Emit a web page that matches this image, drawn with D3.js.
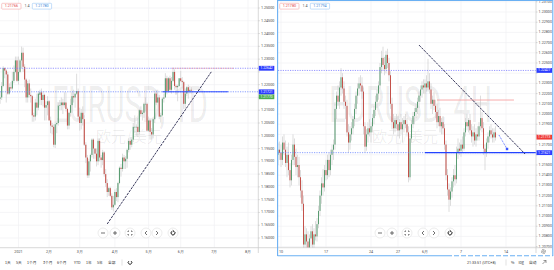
<!DOCTYPE html>
<html><head><meta charset="utf-8">
<script src="https://cdn.jsdelivr.net/npm/d3@7/dist/d3.min.js"></script>
<style>body{margin:0;background:#fff;}svg{display:block;font-family:Roboto,"Liberation Sans",Arial,sans-serif;}</style>
</head><body><svg id="c" width="554" height="270"></svg>
<script>
// ---------------- DATA ----------------
const holidays = ["2020-12-25","2021-01-01"];
// daily EURUSD bars: date, open, high, low, close
const dailyBars = [
["2020-12-10",1.2080,1.2165,1.2060,1.2135],["2020-12-11",1.2135,1.2160,1.2085,1.2110],
["2020-12-14",1.2110,1.2162,1.2105,1.2145],["2020-12-15",1.2145,1.2170,1.2125,1.2150],
["2020-12-16",1.2150,1.2210,1.2140,1.2195],["2020-12-17",1.2195,1.2272,1.2190,1.2265],
["2020-12-18",1.2265,1.2268,1.2225,1.2255],["2020-12-21",1.2255,1.2260,1.2130,1.2240],
["2020-12-22",1.2240,1.2250,1.2160,1.2165],["2020-12-23",1.2165,1.2205,1.2160,1.2190],
["2020-12-24",1.2190,1.2210,1.2175,1.2185],["2020-12-28",1.2185,1.2250,1.2180,1.2215],
["2020-12-29",1.2215,1.2275,1.2205,1.2250],["2020-12-30",1.2250,1.2310,1.2245,1.2295],
["2020-12-31",1.2295,1.2310,1.2210,1.2215],
["2021-01-04",1.2215,1.2310,1.2200,1.2250],["2021-01-05",1.2250,1.2300,1.2245,1.2295],
["2021-01-06",1.2295,1.2349,1.2265,1.2325],["2021-01-07",1.2325,1.2345,1.2250,1.2270],
["2021-01-08",1.2270,1.2280,1.2190,1.2220],["2021-01-11",1.2220,1.2225,1.2130,1.2150],
["2021-01-12",1.2150,1.2215,1.2130,1.2205],["2021-01-13",1.2205,1.2220,1.2150,1.2160],
["2021-01-14",1.2160,1.2185,1.2130,1.2155],["2021-01-15",1.2155,1.2160,1.2055,1.2080],
["2021-01-18",1.2080,1.2090,1.2055,1.2075],["2021-01-19",1.2075,1.2145,1.2060,1.2130],
["2021-01-20",1.2130,1.2165,1.2080,1.2110],["2021-01-21",1.2110,1.2175,1.2100,1.2165],
["2021-01-22",1.2160,1.2180,1.2120,1.2170],["2021-01-25",1.2170,1.2185,1.2120,1.2140],
["2021-01-26",1.2140,1.2175,1.2115,1.2160],["2021-01-27",1.2160,1.2165,1.2060,1.2110],
["2021-01-28",1.2110,1.2135,1.2060,1.2120],["2021-01-29",1.2120,1.2155,1.2080,1.2135],
["2021-02-01",1.2135,1.2140,1.2060,1.2060],["2021-02-02",1.2060,1.2075,1.2010,1.2040],
["2021-02-03",1.2040,1.2050,1.2005,1.2035],["2021-02-04",1.2035,1.2045,1.1955,1.1965],
["2021-02-05",1.1965,1.2055,1.1952,1.2045],["2021-02-08",1.2045,1.2055,1.2010,1.2050],
["2021-02-09",1.2050,1.2130,1.2040,1.2118],["2021-02-10",1.2118,1.2140,1.2100,1.2120],
["2021-02-11",1.2120,1.2150,1.2100,1.2130],["2021-02-12",1.2130,1.2145,1.2085,1.2120],
["2021-02-15",1.2120,1.2170,1.2110,1.2130],["2021-02-16",1.2130,1.2170,1.2095,1.2105],
["2021-02-17",1.2105,1.2110,1.2025,1.2040],["2021-02-18",1.2040,1.2095,1.2025,1.2090],
["2021-02-19",1.2090,1.2145,1.2075,1.2120],["2021-02-22",1.2120,1.2170,1.2090,1.2155],
["2021-02-23",1.2155,1.2180,1.2130,1.2150],["2021-02-24",1.2150,1.2165,1.2110,1.2165],
["2021-02-25",1.2165,1.2243,1.2160,1.2175],["2021-02-26",1.2175,1.2185,1.2060,1.2075],
["2021-03-01",1.2075,1.2110,1.2020,1.2050],["2021-03-02",1.2050,1.2105,1.2025,1.2090],
["2021-03-03",1.2090,1.2115,1.2040,1.2065],["2021-03-04",1.2065,1.2080,1.1960,1.1965],
["2021-03-05",1.1965,1.1975,1.1893,1.1915],["2021-03-08",1.1915,1.1925,1.1835,1.1845],
["2021-03-09",1.1845,1.1910,1.1835,1.1900],["2021-03-10",1.1900,1.1930,1.1860,1.1925],
["2021-03-11",1.1925,1.1990,1.1915,1.1985],["2021-03-12",1.1985,1.1990,1.1910,1.1950],
["2021-03-15",1.1950,1.1950,1.1910,1.1930],["2021-03-16",1.1930,1.1950,1.1880,1.1900],
["2021-03-17",1.1900,1.1990,1.1885,1.1980],["2021-03-18",1.1980,1.1990,1.1900,1.1915],
["2021-03-19",1.1915,1.1925,1.1875,1.1905],["2021-03-22",1.1905,1.1945,1.1885,1.1935],
["2021-03-23",1.1935,1.1940,1.1840,1.1850],["2021-03-24",1.1850,1.1870,1.1800,1.1815],
["2021-03-25",1.1815,1.1830,1.1760,1.1780],["2021-03-26",1.1780,1.1800,1.1765,1.1795],
["2021-03-29",1.1795,1.1800,1.1760,1.1765],["2021-03-30",1.1765,1.1775,1.1710,1.1720],
["2021-03-31",1.1720,1.1765,1.1704,1.1730],
["2021-04-01",1.1730,1.1790,1.1725,1.1780],["2021-04-02",1.1780,1.1795,1.1745,1.1760],
["2021-04-05",1.1760,1.1820,1.1740,1.1815],["2021-04-06",1.1815,1.1880,1.1810,1.1875],
["2021-04-07",1.1875,1.1890,1.1840,1.1870],["2021-04-08",1.1870,1.1930,1.1860,1.1915],
["2021-04-09",1.1915,1.1925,1.1870,1.1900],["2021-04-12",1.1900,1.1920,1.1870,1.1910],
["2021-04-13",1.1910,1.1950,1.1875,1.1945],["2021-04-14",1.1945,1.1990,1.1935,1.1980],
["2021-04-15",1.1980,1.1995,1.1945,1.1965],["2021-04-16",1.1965,1.1995,1.1955,1.1985],
["2021-04-19",1.1985,1.2050,1.1975,1.2035],["2021-04-20",1.2035,1.2080,1.2010,1.2035],
["2021-04-21",1.2035,1.2045,1.2000,1.2035],["2021-04-22",1.2035,1.2070,1.1995,1.2015],
["2021-04-23",1.2015,1.2105,1.2005,1.2100],["2021-04-26",1.2100,1.2115,1.2075,1.2085],
["2021-04-27",1.2085,1.2100,1.2060,1.2090],["2021-04-28",1.2090,1.2130,1.2070,1.2125],
["2021-04-29",1.2125,1.2150,1.2095,1.2125],["2021-04-30",1.2125,1.2130,1.2015,1.2020],
["2021-05-03",1.2020,1.2075,1.2015,1.2060],["2021-05-04",1.2060,1.2065,1.1985,1.2015],
["2021-05-05",1.2015,1.2030,1.1985,1.2005],["2021-05-06",1.2005,1.2070,1.1990,1.2065],
["2021-05-07",1.2065,1.2170,1.2050,1.2165],["2021-05-10",1.2165,1.2180,1.2120,1.2130],
["2021-05-11",1.2130,1.2180,1.2130,1.2150],["2021-05-12",1.2150,1.2160,1.2065,1.2075],
["2021-05-13",1.2075,1.2090,1.2052,1.2080],["2021-05-14",1.2080,1.2150,1.2075,1.2145],
["2021-05-17",1.2145,1.2165,1.2130,1.2150],["2021-05-18",1.2150,1.2245,1.2150,1.2225],
["2021-05-19",1.2225,1.2235,1.2162,1.2175],["2021-05-20",1.2175,1.2230,1.2170,1.2225],
["2021-05-21",1.2225,1.2235,1.2170,1.2180],["2021-05-24",1.2180,1.2230,1.2165,1.2215],
["2021-05-25",1.2215,1.2266,1.2210,1.2250],["2021-05-26",1.2250,1.2260,1.2180,1.2195],
["2021-05-27",1.2195,1.2200,1.2160,1.2190],["2021-05-28",1.2190,1.2200,1.2135,1.2195],
["2021-05-31",1.2195,1.2225,1.2190,1.2225],["2021-06-01",1.2225,1.2254,1.2210,1.2215],
["2021-06-02",1.2215,1.2230,1.2185,1.2210],["2021-06-03",1.2210,1.2215,1.2105,1.2125],
["2021-06-04",1.2125,1.2185,1.2105,1.2165],["2021-06-07",1.2165,1.2195,1.2155,1.2190],
["2021-06-08",1.2190,1.2200,1.2145,1.2175],["2021-06-09",1.2175,1.2195,1.2165,1.2180],
["2021-06-10",1.2180,1.2190,1.2165,1.2177]
];
// 4H EURUSD bars per trading day: day, first 4H slot, [open, high, low, close]...
const h4Bars = [
["2021-05-07",4,[[1.2160,1.2172,1.2150,1.2165],[1.2165,1.2173,1.2155,1.2162]]],
["2021-05-10",0,[[1.2162,1.2170,1.2148,1.2155],[1.2155,1.2178,1.2150,1.2172],[1.2172,1.2180,1.2160,1.2165],[1.2165,1.2174,1.2148,1.2152],[1.2152,1.2168,1.2138,1.2160],[1.2160,1.2172,1.2140,1.2145]]],
["2021-05-11",0,[[1.2145,1.2152,1.2128,1.2135],[1.2135,1.2160,1.2130,1.2155],[1.2155,1.2180,1.2150,1.2170],[1.2170,1.2176,1.2150,1.2158],[1.2158,1.2166,1.2140,1.2148],[1.2148,1.2160,1.2138,1.2150]]],
["2021-05-12",0,[[1.2150,1.2158,1.2130,1.2138],[1.2138,1.2145,1.2118,1.2125],[1.2125,1.2135,1.2105,1.2112],[1.2112,1.2120,1.2062,1.2072],[1.2072,1.2090,1.2060,1.2082],[1.2082,1.2088,1.2065,1.2075]]],
["2021-05-13",0,[[1.2075,1.2085,1.2060,1.2068],[1.2068,1.2082,1.2052,1.2078],[1.2078,1.2090,1.2070,1.2085],[1.2085,1.2092,1.2068,1.2072],[1.2072,1.2088,1.2066,1.2082],[1.2082,1.2095,1.2076,1.2080]]],
["2021-05-14",0,[[1.2080,1.2098,1.2075,1.2092],[1.2092,1.2110,1.2088,1.2105],[1.2105,1.2125,1.2100,1.2120],[1.2120,1.2138,1.2112,1.2132],[1.2132,1.2146,1.2120,1.2128],[1.2128,1.2150,1.2124,1.2145]]],
["2021-05-17",0,[[1.2145,1.2155,1.2135,1.2140],[1.2140,1.2160,1.2136,1.2155],[1.2155,1.2162,1.2138,1.2145],[1.2145,1.2165,1.2140,1.2160],[1.2160,1.2170,1.2150,1.2165],[1.2165,1.2175,1.2155,1.2170]]],
["2021-05-18",0,[[1.2170,1.2210,1.2165,1.2205],[1.2205,1.2222,1.2195,1.2218],[1.2218,1.2228,1.2208,1.2212],[1.2212,1.2232,1.2205,1.2226],[1.2226,1.2245,1.2218,1.2236],[1.2236,1.2240,1.2220,1.2225]]],
["2021-05-19",0,[[1.2225,1.2232,1.2205,1.2212],[1.2212,1.2218,1.2195,1.2208],[1.2208,1.2214,1.2178,1.2182],[1.2182,1.2190,1.2162,1.2172],[1.2172,1.2188,1.2165,1.2180],[1.2180,1.2192,1.2174,1.2186]]],
["2021-05-20",0,[[1.2186,1.2198,1.2180,1.2195],[1.2195,1.2210,1.2188,1.2205],[1.2205,1.2222,1.2200,1.2218],[1.2218,1.2230,1.2210,1.2225],[1.2225,1.2236,1.2218,1.2230],[1.2230,1.2238,1.2222,1.2228]]],
["2021-05-21",0,[[1.2228,1.2236,1.2215,1.2222],[1.2222,1.2226,1.2180,1.2188],[1.2188,1.2192,1.2162,1.2168],[1.2168,1.2185,1.2164,1.2180],[1.2180,1.2192,1.2172,1.2186],[1.2186,1.2195,1.2178,1.2182]]],
["2021-05-24",0,[[1.2182,1.2192,1.2172,1.2188],[1.2188,1.2200,1.2182,1.2196],[1.2196,1.2208,1.2190,1.2204],[1.2204,1.2218,1.2198,1.2212],[1.2212,1.2224,1.2206,1.2220],[1.2220,1.2232,1.2214,1.2228]]],
["2021-05-25",0,[[1.2228,1.2250,1.2225,1.2246],[1.2246,1.2262,1.2240,1.2255],[1.2255,1.2266,1.2242,1.2248],[1.2248,1.2256,1.2238,1.2244],[1.2244,1.2262,1.2240,1.2258],[1.2258,1.2264,1.2245,1.2250]]],
["2021-05-26",0,[[1.2250,1.2255,1.2232,1.2238],[1.2238,1.2242,1.2205,1.2210],[1.2210,1.2216,1.2185,1.2192],[1.2192,1.2200,1.2180,1.2186],[1.2186,1.2198,1.2182,1.2194],[1.2194,1.2200,1.2185,1.2190]]],
["2021-05-27",0,[[1.2190,1.2198,1.2178,1.2184],[1.2184,1.2195,1.2176,1.2192],[1.2192,1.2200,1.2180,1.2185],[1.2185,1.2196,1.2172,1.2190],[1.2190,1.2198,1.2182,1.2194],[1.2194,1.2200,1.2186,1.2190]]],
["2021-05-28",0,[[1.2190,1.2196,1.2178,1.2182],[1.2182,1.2188,1.2133,1.2138],[1.2138,1.2180,1.2135,1.2176],[1.2176,1.2194,1.2172,1.2190],[1.2190,1.2202,1.2186,1.2198],[1.2198,1.2206,1.2190,1.2202]]],
["2021-05-31",0,[[1.2202,1.2210,1.2196,1.2206],[1.2206,1.2216,1.2200,1.2212],[1.2212,1.2222,1.2206,1.2218],[1.2218,1.2228,1.2212,1.2224],[1.2224,1.2232,1.2216,1.2228],[1.2228,1.2234,1.2220,1.2226]]],
["2021-06-01",0,[[1.2226,1.2234,1.2220,1.2230],[1.2230,1.2238,1.2222,1.2226],[1.2226,1.2254,1.2222,1.2232],[1.2232,1.2240,1.2220,1.2224],[1.2224,1.2230,1.2205,1.2210],[1.2210,1.2218,1.2200,1.2214]]],
["2021-06-02",0,[[1.2214,1.2222,1.2204,1.2208],[1.2208,1.2214,1.2196,1.2202],[1.2202,1.2210,1.2186,1.2192],[1.2192,1.2204,1.2188,1.2198],[1.2198,1.2206,1.2182,1.2188],[1.2188,1.2196,1.2180,1.2192]]],
["2021-06-03",0,[[1.2192,1.2198,1.2180,1.2186],[1.2186,1.2190,1.2165,1.2170],[1.2170,1.2174,1.2135,1.2140],[1.2140,1.2146,1.2120,1.2126],[1.2126,1.2132,1.2104,1.2116],[1.2116,1.2128,1.2110,1.2124]]],
["2021-06-04",0,[[1.2124,1.2138,1.2118,1.2134],[1.2134,1.2146,1.2128,1.2140],[1.2140,1.2150,1.2130,1.2136],[1.2136,1.2168,1.2132,1.2162],[1.2162,1.2176,1.2156,1.2166],[1.2166,1.2172,1.2160,1.2164]]],
["2021-06-07",0,[[1.2164,1.2175,1.2158,1.2170],[1.2170,1.2178,1.2162,1.2166],[1.2166,1.2186,1.2164,1.2182],[1.2182,1.2196,1.2178,1.2192],[1.2192,1.2200,1.2184,1.2188],[1.2188,1.2196,1.2182,1.2194]]],
["2021-06-08",0,[[1.2194,1.2200,1.2180,1.2184],[1.2184,1.2190,1.2172,1.2178],[1.2178,1.2188,1.2168,1.2182],[1.2182,1.2190,1.2170,1.2174],[1.2174,1.2186,1.2168,1.2180],[1.2180,1.2188,1.2174,1.2178]]],
["2021-06-09",0,[[1.2178,1.2192,1.2174,1.2188],[1.2188,1.2218,1.2184,1.2196],[1.2196,1.2202,1.2182,1.2186],[1.2186,1.2192,1.2160,1.2166],[1.2166,1.2170,1.2145,1.2162],[1.2162,1.2176,1.2158,1.2172]]],
["2021-06-10",0,[[1.2172,1.2182,1.2166,1.2178],[1.2178,1.2188,1.2172,1.2184],[1.2184,1.2190,1.2176,1.2180],[1.2180,1.2186,1.2172,1.2177],[1.2177,1.2186,1.2172,1.2182],[1.2182,1.2188,1.2174,1.2177]]]
];
const leftTicks = [["2021-01-04","2021"],["2021-02-01","2月"],["2021-03-01","3月"],["2021-04-01","4月"],["2021-05-03","5月"],["2021-06-01","6月"],["2021-07-01","7月"],["2021-08-02","8月"]];
const rightTicks = [["2021-05-10","10"],["2021-05-17","17"],["2021-05-24","24"],["2021-05-27","27"],["2021-06-01","6月"],["2021-06-07","7"],["2021-06-14","14"]];
const leftLevels = {purple:1.22642, blue:1.21721, last:1.21770};
const rightLevels = {purple:1.22427, blue:1.21621, red:1.22137, last:1.21773};
const leftTrend = [["2021-03-25",0,1.1655],["2021-06-29",0,1.2250]];
const rightTrend = [["2021-05-31",2,1.22676],["2021-06-16",0.7,1.21608]];
const rightArrow = [["2021-06-11",1.3,1.21794],["2021-06-14",0.7,1.21657]];
const leftQuotes = ["1.21766","1.4","1.21780"];
const rightQuotes = ["1.21780","1.4","1.21794"];
const rangeButtons = ["1天","5天","1个月","3个月","6个月","YTD","1年","5年","全部"];

// ---------------- HELPERS ----------------
function bd(s){ // trading-day index
  const d = new Date(s+"T00:00:00Z"); let n=0;
  for(let t=new Date(Date.UTC(2020,11,7)); t<d; t.setUTCDate(t.getUTCDate()+1)){
    const w=t.getUTCDay(), k=t.toISOString().slice(0,10);
    if(w!==0&&w!==6&&!holidays.includes(k)) n++;
  }
  return n;
}
const svg=d3.select("#c");
const FS=3.7, TXT="#4a4a4a";
const up="#5a9c72", dn="#c4514a", wickC="#c6c6c6";

const yL=d3.scaleLinear().domain([1.16,1.25]).range([238,8]);
const yR=d3.scaleLinear().domain([1.207,1.23]).range([246.6,12]);
const xL=d3.scaleLinear().domain([bd("2021-01-04"),bd("2021-08-02")]).range([18.5,248]);
const xR=d3.scaleLinear().domain([bd("2021-05-10")*6,bd("2021-06-14")*6]).range([281,506]);
const PL={x0:0,x1:258.3,y1:247.7}, PR={x0:278,x1:536,y1:247.7};

const defs=svg.append("defs");
defs.append("clipPath").attr("id","clipL").append("rect").attr("x",PL.x0).attr("y",0).attr("width",PL.x1-PL.x0).attr("height",PL.y1);
defs.append("clipPath").attr("id","clipR").append("rect").attr("x",PR.x0).attr("y",0).attr("width",PR.x1-PR.x0).attr("height",PR.y1);

const dBars=dailyBars.map(d=>({pos:bd(d[0]),o:d[1],h:d[2],l:d[3],c:d[4]}));
const hBars=[]; h4Bars.forEach(([day,s,arr])=>{const b=bd(day)*6; arr.forEach((v,i)=>hBars.push({pos:b+s+i,o:v[0],h:v[1],l:v[2],c:v[3]}));});

// ---------------- GRID ----------------
function grid(P,clip,y,ticks,vals){
  const g=svg.append("g").attr("clip-path",`url(#${clip})`);
  vals.forEach(v=>g.append("line").attr("x1",P.x0).attr("x2",P.x1).attr("y1",y(v)).attr("y2",y(v)).attr("stroke","#f0f0f4").attr("stroke-width",0.7));
  ticks.forEach(t=>g.append("line").attr("x1",t[2]).attr("x2",t[2]).attr("y1",0).attr("y2",P.y1).attr("stroke","#f0f0f4").attr("stroke-width",0.7));
}
const lTickVals=d3.range(0,19).map(i=>+(1.16+i*0.005).toFixed(3));
const rTickVals=d3.range(0,25).map(i=>+(1.207+i*0.001).toFixed(3));
const lT=leftTicks.map(t=>[t[0],t[1],xL(bd(t[0]))]);
const rT=rightTicks.map(t=>[t[0],t[1],xR(bd(t[0])*6)]);
grid(PL,"clipL",yL,lT,lTickVals);
grid(PR,"clipR",yR,rT,rTickVals);

// ---------------- WATERMARKS ----------------
function watermark(x,w,t1,cx){
  svg.append("text").attr("x",x).attr("y",121.5).attr("font-size",50).attr("textLength",w).attr("lengthAdjust","spacingAndGlyphs")
    .attr("fill","#000").attr("fill-opacity",0.075).text(t1);
  svg.append("text").attr("x",cx).attr("y",141.5).attr("font-size",15).attr("text-anchor","middle")
    .attr("font-family","'Noto Sans CJK SC',sans-serif").attr("fill","#000").attr("fill-opacity",0.075).text("欧元/美元");
}
watermark(52,156,"EURUSD, 1D",129);
watermark(329,163,"EURUSD, 4H",405);

// ---------------- CANDLES ----------------
function candles(bars,x,y,clip,bw){
  const g=svg.append("g").attr("clip-path",`url(#${clip})`);
  g.selectAll("line.w").data(bars).join("line").attr("class","w")
    .attr("x1",d=>x(d.pos)).attr("x2",d=>x(d.pos)).attr("y1",d=>y(d.h)).attr("y2",d=>y(d.l))
    .attr("stroke",wickC).attr("stroke-width",0.6);
  g.selectAll("rect").data(bars).join("rect")
    .attr("x",d=>x(d.pos)-bw/2).attr("width",bw)
    .attr("y",d=>y(Math.max(d.o,d.c))).attr("height",d=>Math.max(0.6,Math.abs(y(d.o)-y(d.c))))
    .attr("fill",d=>d.c>=d.o?up:dn);
}
candles(dBars,xL,yL,"clipL",1.1);
candles(hBars,xR,yR,"clipR",1.0);

// ---------------- DRAWINGS ----------------
const gl=svg.append("g").attr("clip-path","url(#clipL)");
gl.append("line").attr("x1",0).attr("x2",PL.x1).attr("y1",yL(leftLevels.purple)).attr("y2",yL(leftLevels.purple)).attr("stroke","#7d7dff").attr("stroke-width",0.8).attr("stroke-dasharray","1.2,1.2");
gl.append("line").attr("x1",xL(bd("2021-05-25"))-1).attr("x2",xL(bd("2021-07-20"))).attr("y1",yL(leftLevels.purple)).attr("y2",yL(leftLevels.purple)).attr("stroke","#f29c9c").attr("stroke-width",0.9).attr("stroke-dasharray","1.2,1.2");
gl.append("line").attr("x1",0).attr("x2",PL.x1).attr("y1",yL(leftLevels.blue)).attr("y2",yL(leftLevels.blue)).attr("stroke","#6c86ff").attr("stroke-width",0.8).attr("stroke-dasharray","1.2,1.2");
gl.append("line").attr("x1",xL(bd("2021-05-14"))).attr("x2",xL(bd("2021-07-14"))).attr("y1",yL(leftLevels.blue)).attr("y2",yL(leftLevels.blue)).attr("stroke","#2f4dff").attr("stroke-width",1);
gl.append("line").attr("x1",xL(bd(leftTrend[0][0]))).attr("y1",yL(leftTrend[0][2])).attr("x2",xL(bd(leftTrend[1][0]))).attr("y2",yL(leftTrend[1][2]))
  .attr("stroke","#23234a").attr("stroke-width",0.9).attr("stroke-dasharray","2.5,1");

const gr=svg.append("g").attr("clip-path","url(#clipR)");
const rx=(a)=>xR(bd(a[0])*6+a[1]);
gr.append("line").attr("x1",PR.x0).attr("x2",PR.x1).attr("y1",yR(rightLevels.purple)).attr("y2",yR(rightLevels.purple)).attr("stroke","#7d7dff").attr("stroke-width",0.8).attr("stroke-dasharray","1.2,1.2");
gr.append("line").attr("x1",PR.x0).attr("x2",PR.x1).attr("y1",yR(rightLevels.blue)).attr("y2",yR(rightLevels.blue)).attr("stroke","#6c86ff").attr("stroke-width",0.8).attr("stroke-dasharray","1.2,1.2");
gr.append("line").attr("x1",xR(bd("2021-06-01")*6)).attr("x2",PR.x1).attr("y1",yR(rightLevels.blue)).attr("y2",yR(rightLevels.blue)).attr("stroke","#2443ff").attr("stroke-width",1.3);
gr.append("line").attr("x1",xR(bd("2021-06-02")*6+2)).attr("x2",xR(bd("2021-06-14")*6+5.3)).attr("y1",yR(rightLevels.red)).attr("y2",yR(rightLevels.red)).attr("stroke","#f5a3a3").attr("stroke-width",0.9);
gr.append("line").attr("x1",rx(rightTrend[0])).attr("y1",yR(rightTrend[0][2])).attr("x2",rx(rightTrend[1])).attr("y2",yR(rightTrend[1][2]))
  .attr("stroke","#23234a").attr("stroke-width",0.9).attr("stroke-dasharray","2.5,1");
gr.append("line").attr("x1",rx(rightArrow[0])).attr("y1",yR(rightArrow[0][2])).attr("x2",rx(rightArrow[1])).attr("y2",yR(rightArrow[1][2]))
  .attr("stroke","#3a55ff").attr("stroke-width",0.8).attr("stroke-dasharray","1,0.8");
gr.append("rect").attr("x",rx(rightArrow[1])-1.2).attr("y",yR(rightArrow[1][2])-1.2).attr("width",2.4).attr("height",2.4).attr("fill","#3a55ff");

// ---------------- AXES ----------------
const BH=4.8;
function priceAxis(P,y,vals,hide,ax){
  const g=svg.append("g");
  g.append("line").attr("x1",ax).attr("x2",ax).attr("y1",0).attr("y2",253).attr("stroke","#c8c8c8").attr("stroke-width",0.7);
  vals.forEach(v=>{
    const yy=y(v); if(yy<0||yy>P.y1) return;
    g.append("line").attr("x1",ax).attr("x2",ax+1.5).attr("y1",yy).attr("y2",yy).attr("stroke","#b5b5b5").attr("stroke-width",0.5);
    if(hide.some(h=>Math.abs(h-yy)<6)) return;
    g.append("text").attr("x",ax+2.6).attr("y",yy).attr("dominant-baseline","central").attr("font-size",FS).attr("fill",TXT).text(v.toFixed(5));
  });
}
const lBlueY=yL(leftLevels.blue), lGreenY=lBlueY+BH+0.2;
priceAxis(PL,yL,lTickVals,[yL(leftLevels.purple),lBlueY,lGreenY],PL.x1);
priceAxis(PR,yR,rTickVals,[yR(rightLevels.purple),yR(rightLevels.blue),yR(rightLevels.last)],PR.x1);

function box(x,yy,w,fill,txt){
  svg.append("rect").attr("x",x).attr("y",yy-BH/2).attr("width",w).attr("height",BH).attr("fill",fill);
  svg.append("text").attr("x",x+w/2).attr("y",yy).attr("dominant-baseline","central").attr("text-anchor","middle").attr("font-size",3.4).attr("fill","#fff").text(txt);
}
box(PL.x1+0.5,lGreenY,15.5,"#4caf50",leftLevels.last.toFixed(5));
box(PL.x1+0.5,yL(leftLevels.purple),15.5,"#2b3cff",leftLevels.purple.toFixed(5));
box(PL.x1+0.5,lBlueY,15.5,"#2b3cff",leftLevels.blue.toFixed(5));
box(PR.x1+0.5,yR(rightLevels.purple),15.5,"#2b3cff",rightLevels.purple.toFixed(5));
box(PR.x1+0.5,yR(rightLevels.last),15.5,"#ef3b36",rightLevels.last.toFixed(5));
box(PR.x1+0.5,yR(rightLevels.blue),15.5,"#2b3cff",rightLevels.blue.toFixed(5));

function timeAxis(P,ticks){
  svg.append("line").attr("x1",P.x0).attr("x2",P.x1).attr("y1",P.y1).attr("y2",P.y1).attr("stroke","#c8c8c8").attr("stroke-width",0.7);
  ticks.forEach(t=>svg.append("text").attr("x",t[2]).attr("y",251.8).attr("dominant-baseline","central").attr("text-anchor","middle").attr("font-size",FS).attr("fill",TXT).text(t[1]));
}
timeAxis(PL,lT); timeAxis(PR,rT);
svg.append("line").attr("x1",PL.x1).attr("x2",277).attr("y1",PL.y1).attr("y2",PL.y1).attr("stroke","#c8c8c8").attr("stroke-width",0.7);
svg.append("line").attr("x1",PR.x1).attr("x2",552).attr("y1",PR.y1).attr("y2",PR.y1).attr("stroke","#c8c8c8").attr("stroke-width",0.7);
// gear
svg.append("circle").attr("cx",543.5).attr("cy",251.5).attr("r",2).attr("fill","none").attr("stroke","#555").attr("stroke-width",0.7).attr("stroke-dasharray","0.9,0.5");
svg.append("circle").attr("cx",543.5).attr("cy",251.5).attr("r",0.8).attr("fill","none").attr("stroke","#555").attr("stroke-width",0.5);

// ---------------- BOTTOM TOOLBARS ----------------
const bx=[5,16,27,43,57,74,86,97,108];
rangeButtons.forEach((t,i)=>svg.append("text").attr("x",bx[i]).attr("y",262.5).attr("dominant-baseline","central").attr("font-size",FS).attr("font-family","'Noto Sans CJK SC',Roboto,sans-serif").attr("fill","#333").text(t));
svg.append("line").attr("x1",122).attr("x2",122).attr("y1",259.5).attr("y2",265.5).attr("stroke","#ccc").attr("stroke-width",0.6);
svg.append("path").attr("d",d3.arc()({innerRadius:1.8,outerRadius:1.8,startAngle:0.6,endAngle:5.6})).attr("transform","translate(130,262.5)").attr("fill","none").attr("stroke","#444").attr("stroke-width",0.7);
svg.append("text").attr("x",467).attr("y",262.5).attr("dominant-baseline","central").attr("font-size",FS).attr("fill","#333").text("21:33:51 (UTC+8)");
svg.append("line").attr("x1",506).attr("x2",506).attr("y1",259.5).attr("y2",265.5).attr("stroke","#ccc").attr("stroke-width",0.6);
[["%",511],["log",518.5],["自动",529]].forEach(t=>svg.append("text").attr("x",t[1]).attr("y",262.5).attr("dominant-baseline","central").attr("font-size",FS).attr("font-family","'Noto Sans CJK SC',Roboto,sans-serif").attr("fill","#333").text(t[0]));
svg.append("path").attr("d","M542.5,264 L546,260.5 M543.5,260.5 L546,260.5 L546,263").attr("fill","none").attr("stroke","#555").attr("stroke-width",0.6);

// ---------------- QUOTES ----------------
function quotes(x0,q){
  svg.append("rect").attr("x",x0+1.7).attr("y",3.3).attr("width",19.3).attr("height",5.8).attr("rx",0.8).attr("fill","#fff").attr("stroke","#f4a6a6").attr("stroke-width",0.6);
  svg.append("text").attr("x",x0+11.35).attr("y",6.3).attr("dominant-baseline","central").attr("text-anchor","middle").attr("font-size",FS).attr("fill","#e04444").text(q[0]);
  svg.append("text").attr("x",x0+27).attr("y",6.3).attr("dominant-baseline","central").attr("text-anchor","middle").attr("font-size",FS).attr("fill","#555").text(q[1]);
  svg.append("rect").attr("x",x0+32.3).attr("y",3.3).attr("width",19.3).attr("height",5.8).attr("rx",0.8).attr("fill","#fff").attr("stroke","#9cc7f5").attr("stroke-width",0.6);
  svg.append("text").attr("x",x0+41.95).attr("y",6.3).attr("dominant-baseline","central").attr("text-anchor","middle").attr("font-size",FS).attr("fill","#3a7fd6").text(q[2]);
}
quotes(0,leftQuotes); quotes(278,rightQuotes);

// ---------------- NAV CONTROLS ----------------
function controls(dx){
  const g=svg.append("g").attr("transform",`translate(${dx},0)`);
  const cy=233, xs=[103,115,130,146,157,173];
  xs.forEach(x=>g.append("circle").attr("cx",x).attr("cy",cy).attr("r",5).attr("fill","#fff").attr("stroke","#e4e4e4").attr("stroke-width",0.7));
  const P=(d)=>g.append("path").attr("d",d).attr("stroke","#333").attr("stroke-width",0.7).attr("fill","none");
  P(`M${xs[0]-2},${cy} H${xs[0]+2}`);
  P(`M${xs[1]-2},${cy} H${xs[1]+2} M${xs[1]},${cy-2} V${cy+2}`);
  const f=xs[2];
  P(`M${f-2},${cy-1} V${cy-2} H${f-1} M${f+1},${cy-2} H${f+2} V${cy-1} M${f+2},${cy+1} V${cy+2} H${f+1} M${f-1},${cy+2} H${f-2} V${cy+1}`);
  P(`M${xs[3]+1},${cy-2} L${xs[3]-1},${cy} L${xs[3]+1},${cy+2}`);
  P(`M${xs[4]-1},${cy-2} L${xs[4]+1},${cy} L${xs[4]-1},${cy+2}`);
  g.append("path").attr("d",d3.arc()({innerRadius:1.9,outerRadius:1.9,startAngle:0.5,endAngle:5.9})).attr("transform",`translate(${xs[5]},${cy})`).attr("fill","none").attr("stroke","#333").attr("stroke-width",0.7);
  P(`M${xs[5]-0.2},${cy-2.9} L${xs[5]+1},${cy-1.9} L${xs[5]-0.3},${cy-1}`);
}
controls(0); controls(277);

// ---------------- SELECTED PANEL FRAME ----------------
const fc="#6ab0f3";
svg.append("line").attr("x1",277.6).attr("x2",277.6).attr("y1",0).attr("y2",256).attr("stroke",fc).attr("stroke-width",1.1);
svg.append("line").attr("x1",552.8).attr("x2",552.8).attr("y1",0).attr("y2",256).attr("stroke",fc).attr("stroke-width",1.1);
svg.append("line").attr("x1",277.6).attr("x2",552.8).attr("y1",0.5).attr("y2",0.5).attr("stroke",fc).attr("stroke-width",1.1);
svg.append("line").attr("x1",277.6).attr("x2",447).attr("y1",255.7).attr("y2",255.7).attr("stroke",fc).attr("stroke-width",1.1);
svg.append("line").attr("x1",447).attr("x2",552.8).attr("y1",255.7).attr("y2",255.7).attr("stroke",fc).attr("stroke-width",1.1).attr("stroke-dasharray","5,2");
</script></body></html>
